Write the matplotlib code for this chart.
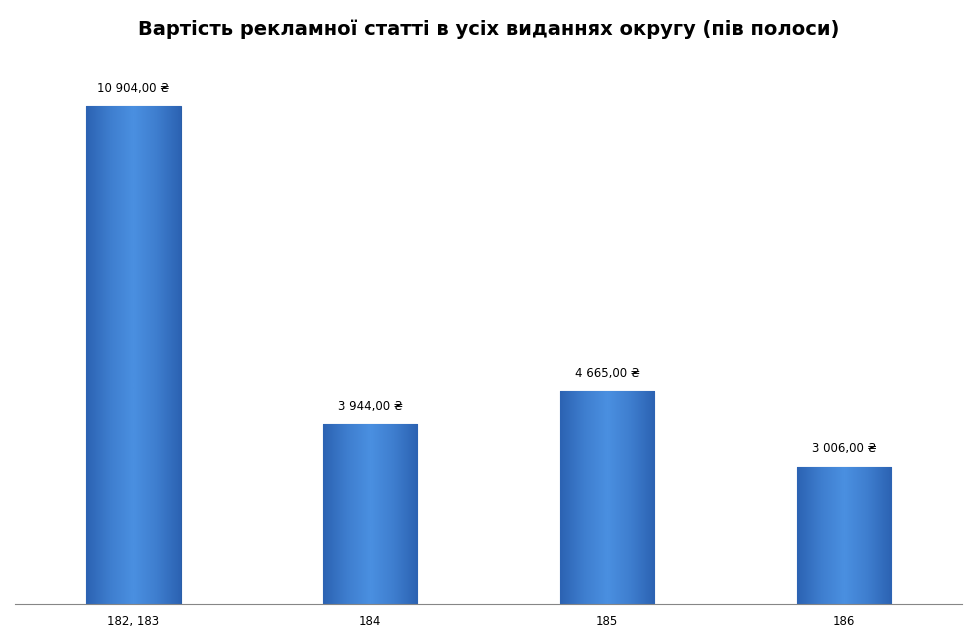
import numpy as np
import matplotlib.pyplot as plt

# Видання округу і вартість статті (пів полоси)
categories = ["182, 183", "184", "185", "186"]
values = [10904.00, 3944.00, 4665.00, 3006.00]
title = "Вартість рекламної статті в усіх виданнях округу (пів полоси)"


def money(v):
    s = f"{v:,.2f}".replace(",", " ").replace(".", ",")
    return s + " ₴"


fig = plt.figure(figsize=(9.78, 6.40), dpi=100)
ax = fig.add_axes([0.015, 0.056, 0.969, 0.8565])
x = np.arange(len(categories))
bars = ax.bar(x, values, width=0.4, color="#3F7FD4", edgecolor="#2A5EA8", linewidth=0.8, zorder=2)

# horizontal gradient on each bar
grad = np.array([[0.0, 0.6, 1.0, 0.6, 0.0]])
cmap = plt.matplotlib.colors.LinearSegmentedColormap.from_list("b", ["#2C63B3", "#4A8FE0"])
for b in bars:
    im = ax.imshow(np.interp(np.linspace(0, 4, 60), np.arange(5), grad[0])[None, :],
                   cmap=cmap, aspect="auto", interpolation="bilinear",
                   extent=[b.get_x(), b.get_x() + b.get_width(), 0, b.get_height()], zorder=2)
    im.set_clip_path(b)
    ax.text(b.get_x() + b.get_width() / 2, b.get_height() + 250, money(b.get_height()),
            ha="center", va="bottom", fontsize=8.5, family="DejaVu Sans")

ax.set_xlim(-0.5, len(categories) - 0.5)
ax.set_ylim(0, 12000)
ax.set_xticks(x)
ax.set_xticklabels(categories, fontsize=8.5)
ax.set_yticks([])
for s in ["top", "right", "left"]:
    ax.spines[s].set_visible(False)
ax.spines["bottom"].set_color("#868686")
ax.tick_params(axis="x", length=0, pad=8)

fig.text(0.5, 0.955, title, ha="center", va="center", fontsize=14, fontweight="bold")
fig.savefig("out.png", dpi=100)
